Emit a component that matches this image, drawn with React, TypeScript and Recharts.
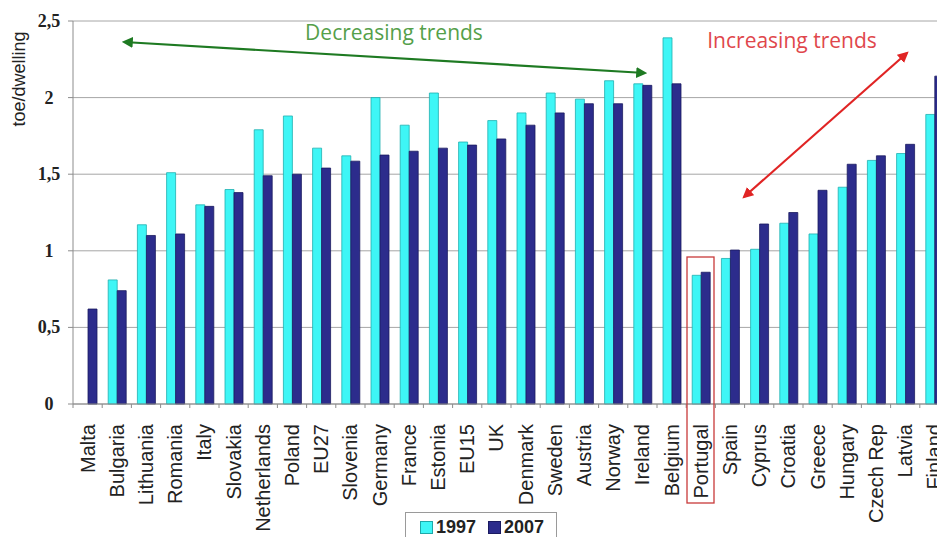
import React from 'react';
import { BarChart, Bar, XAxis, YAxis, CartesianGrid } from 'recharts';

// Household energy use per dwelling (toe/dwelling), 1997 vs 2007
const countries = [
  'Malta', 'Bulgaria', 'Lithuania', 'Romania', 'Italy', 'Slovakia', 'Netherlands',
  'Poland', 'EU27', 'Slovenia', 'Germany', 'France', 'Estonia', 'EU15', 'UK',
  'Denmark', 'Sweden', 'Austria', 'Norway', 'Ireland', 'Belgium', 'Portugal',
  'Spain', 'Cyprus', 'Croatia', 'Greece', 'Hungary', 'Czech Rep', 'Latvia', 'Finland',
];

const values1997 = [
  null, 0.81, 1.17, 1.51, 1.3, 1.4, 1.79,
  1.88, 1.67, 1.62, 2.0, 1.82, 2.03, 1.71, 1.85,
  1.9, 2.03, 1.99, 2.11, 2.09, 2.39, 0.84,
  0.95, 1.01, 1.18, 1.11, 1.415, 1.59, 1.635, 1.89,
];

const values2007 = [
  0.62, 0.74, 1.1, 1.11, 1.29, 1.38, 1.49,
  1.5, 1.54, 1.585, 1.625, 1.65, 1.67, 1.69, 1.73,
  1.82, 1.9, 1.96, 1.96, 2.08, 2.09, 0.86,
  1.005, 1.175, 1.25, 1.395, 1.565, 1.62, 1.695, 2.14,
];

const yTicks = [0, 0.5, 1, 1.5, 2, 2.5];

const data = countries.map((name, i) => ({
  name,
  y1997: values1997[i],
  y2007: values2007[i],
}));

const CYAN = '#3ef6f6';
const NAVY = '#2c2c8c';
const AXIS = '#8c8c8c';

function CountryTick(props: any) {
  const { x, y, payload } = props;
  const ty = y + 12;
  const half = payload.offset || 0;
  const axisY = y - 8;
  return (
    <g>
      <line x1={x - half} y1={axisY} x2={x - half} y2={axisY + 4} stroke={AXIS} />
      <text
        x={x}
        y={ty}
        transform={`rotate(-90, ${x}, ${ty})`}
        textAnchor="end"
        dominantBaseline="central"
        fontFamily="'Liberation Sans', Arial, sans-serif"
        fontSize={20}
        fill="#222"
      >
        {payload.value}
      </text>
    </g>
  );
}

function ValueTick(props: any) {
  const { y, payload } = props;
  return (
    <text
      x={49}
      y={y}
      textAnchor="middle"
      dominantBaseline="central"
      fontFamily="'Liberation Serif', 'Times New Roman', serif"
      fontWeight="bold"
      fontSize={18}
      fill="#222"
    >
      {String(payload.value).replace('.', ',')}
    </text>
  );
}

// axis title, arrows, trend captions and the Portugal highlight box
function Annotations() {
  return (
    <svg
      width={937}
      height={537}
      style={{ position: 'absolute', left: 0, top: 0, pointerEvents: 'none' }}
    >
      <defs>
        <marker id="headGreen" viewBox="0 0 10 10" refX="8" refY="5" markerWidth="5" markerHeight="5" orient="auto-start-reverse">
          <path d="M0,0 L10,5 L0,10 z" fill="#1e7a22" />
        </marker>
        <marker id="headRed" viewBox="0 0 10 10" refX="8" refY="5" markerWidth="5" markerHeight="5" orient="auto-start-reverse">
          <path d="M0,0 L10,5 L0,10 z" fill="#e02424" />
        </marker>
      </defs>
      <text
        x={19}
        y={79}
        transform="rotate(-90, 19, 79)"
        textAnchor="middle"
        dominantBaseline="central"
        fontFamily="'Liberation Sans', Arial, sans-serif"
        fontSize={18}
        fill="#222"
      >
        toe/dwelling
      </text>
      <line x1={124} y1={42} x2={645} y2={73} stroke="#1e7a22" strokeWidth={2.2}
        markerStart="url(#headGreen)" markerEnd="url(#headGreen)" />
      <text x={394} y={40} textAnchor="middle" fontFamily="'Open Sans', sans-serif" fontSize={21} fill="#55a04a">
        Decreasing trends
      </text>
      <line x1={744} y1={197} x2={907} y2={53} stroke="#e02424" strokeWidth={2.2}
        markerStart="url(#headRed)" markerEnd="url(#headRed)" />
      <text x={792} y={48} textAnchor="middle" fontFamily="'Open Sans', sans-serif" fontSize={21} fill="#e0474c">
        Increasing trends
      </text>
      <rect x={687} y={257} width={27} height={246} fill="none" stroke="#c83a3a" strokeWidth={1.3} />
    </svg>
  );
}

function LegendBox() {
  const item = (color: string, border: string, label: string) => (
    <span style={{ display: 'inline-flex', alignItems: 'center', marginRight: 12 }}>
      <span style={{ width: 11, height: 11, background: color, border: `1px solid ${border}`, marginRight: 3 }} />
      {label}
    </span>
  );
  return (
    <div
      style={{
        position: 'absolute',
        left: 405,
        top: 512,
        width: 152,
        height: 30,
        border: '1px solid #9a9a9a',
        background: '#fff',
        boxSizing: 'border-box',
        display: 'flex',
        alignItems: 'center',
        paddingLeft: 14,
        fontFamily: "'Liberation Sans Narrow', 'Liberation Sans', Arial, sans-serif",
        fontWeight: 'bold',
        fontSize: 18,
        color: '#222',
      }}
    >
      {item(CYAN, '#1fa8a8', '1997')}
      {item(NAVY, '#1a1a60', '2007')}
    </div>
  );
}

export default function App() {
  return (
    <div style={{ position: 'fixed', left: 0, top: 0, width: 937, height: 537, overflow: 'hidden', background: '#fff' }}>
      <BarChart
        width={960}
        height={537}
        data={data}
        margin={{ top: 21, right: 11, bottom: 0, left: 0 }}
        barGap={0}
        barSize={9}
      >
        <CartesianGrid vertical={false} stroke="#a6a6a6" />
        <XAxis
          dataKey="name"
          interval={0}
          height={133}
          tick={<CountryTick />}
          tickLine={false}
          axisLine={{ stroke: AXIS }}
        />
        <YAxis
          width={73}
          domain={[0, 2.5]}
          ticks={yTicks}
          tick={<ValueTick />}
          tickSize={5}
          tickLine={{ stroke: AXIS }}
          axisLine={{ stroke: AXIS }}
        />
        <Bar dataKey="y1997" fill={CYAN} stroke="#1fb0b0" strokeWidth={0.8} isAnimationActive={false} />
        <Bar dataKey="y2007" fill={NAVY} stroke="#1a1a60" strokeWidth={0.8} isAnimationActive={false} />
      </BarChart>
      <Annotations />
      <LegendBox />
    </div>
  );
}
